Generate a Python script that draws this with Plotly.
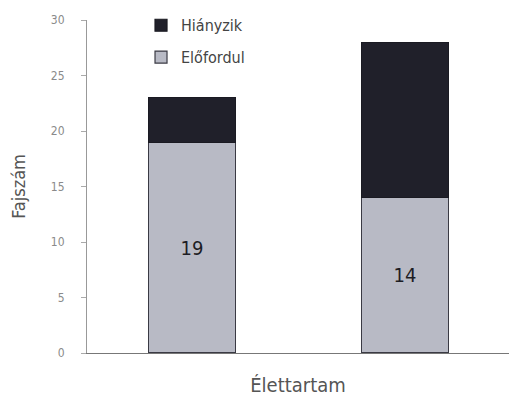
import plotly.graph_objects as go

# Species counts per lifespan group
categories = ["A", "B"]
present = [19, 14]      # Előfordul
missing = [4, 14]       # Hiányzik
present_labels = ["19", "14"]

FONT = "DejaVu Sans Condensed, Liberation Sans Narrow, sans-serif"

fig = go.Figure()
fig.add_trace(go.Bar(
    x=categories, y=present, name="Előfordul", legendgroup="p", legendrank=2,
    marker=dict(color="#b8bac5", line=dict(color="#3a3a44", width=1.2)),
    text=present_labels, textposition="inside", insidetextanchor="middle",
    textfont=dict(family=FONT, size=20, color="#1d1d24"),
    width=0.41,
))
fig.add_trace(go.Bar(
    x=categories, y=missing, name="Hiányzik", legendgroup="m", legendrank=1,
    marker=dict(color="#20202a", line=dict(color="#1a1a22", width=1.2)),
    width=0.41,
))

fig.update_layout(
    width=509, height=405,
    barmode="stack",
    paper_bgcolor="white", plot_bgcolor="white",
    margin=dict(l=87, r=0, t=20, b=52),
    font=dict(family=FONT, color="#555"),
    showlegend=True,
    legend=dict(
        x=0.128, y=1.035, xanchor="left", yanchor="top",
        traceorder="grouped", tracegroupgap=8,
        font=dict(family=FONT, size=16, color="#444"),
        bgcolor="rgba(0,0,0,0)", itemwidth=30,
    ),
    xaxis=dict(
        range=[-0.493, 1.488], showticklabels=False, ticks="",
        showline=True, linecolor="#777", linewidth=1.2,
        showgrid=False, zeroline=False,
        title=dict(text="Élettartam", font=dict(family=FONT, size=20, color="#555"), standoff=24),
    ),
    yaxis=dict(
        range=[0, 30], tickvals=[0, 5, 10, 15, 20, 25, 30],
        ticks="outside", ticklen=5, tickcolor="#aaa",
        showline=True, linecolor="#999", linewidth=1,
        showgrid=False, zeroline=False, ticklabelstandoff=14,
        tickfont=dict(family=FONT, size=12, color="#8a8a8a"),
        title=dict(text="Fajszám", font=dict(family=FONT, size=18, color="#555"), standoff=20),
    ),
)

fig.write_html("out.html")
